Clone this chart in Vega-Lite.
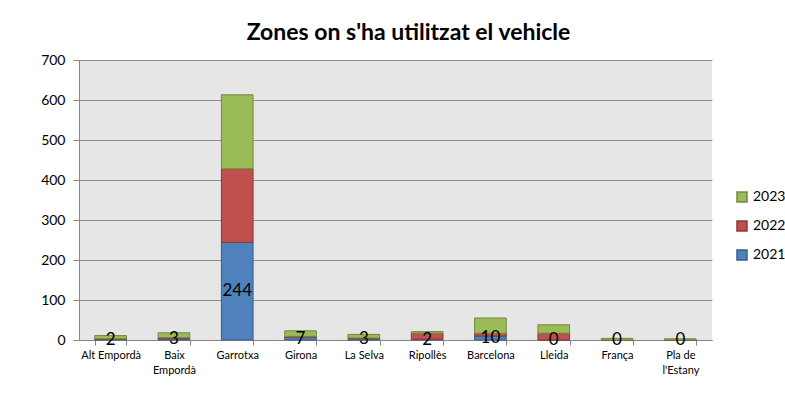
{
  "$schema": "https://vega.github.io/schema/vega-lite/v6.json",
  "width": 633,
  "height": 280,
  "autosize": "none",
  "padding": {"left": 79, "top": 60, "right": 73, "bottom": 66},
  "background": "white",
  "title": {
    "text": "Zones on s'ha utilitzat el vehicle",
    "font": "Lato",
    "fontSize": 23,
    "fontWeight": "bold",
    "color": "black",
    "anchor": "middle",
    "offset": 8,
    "dx": 13
  },
  "config": {
    "view": {"fill": "#E6E6E6", "stroke": null},
    "font": "Lato"
  },
  "data": {
    "values": [
      {"zona": "Alt Empordà", "any": "2021", "n": 2},
      {"zona": "Alt Empordà", "any": "2022", "n": 1},
      {"zona": "Alt Empordà", "any": "2023", "n": 8},
      {"zona": "Baix Empordà", "any": "2021", "n": 3},
      {"zona": "Baix Empordà", "any": "2022", "n": 3},
      {"zona": "Baix Empordà", "any": "2023", "n": 12},
      {"zona": "Garrotxa", "any": "2021", "n": 244},
      {"zona": "Garrotxa", "any": "2022", "n": 184},
      {"zona": "Garrotxa", "any": "2023", "n": 185},
      {"zona": "Girona", "any": "2021", "n": 7},
      {"zona": "Girona", "any": "2022", "n": 2},
      {"zona": "Girona", "any": "2023", "n": 14},
      {"zona": "La Selva", "any": "2021", "n": 3},
      {"zona": "La Selva", "any": "2022", "n": 2},
      {"zona": "La Selva", "any": "2023", "n": 9},
      {"zona": "Ripollès", "any": "2021", "n": 2},
      {"zona": "Ripollès", "any": "2022", "n": 15},
      {"zona": "Ripollès", "any": "2023", "n": 4},
      {"zona": "Barcelona", "any": "2021", "n": 10},
      {"zona": "Barcelona", "any": "2022", "n": 7},
      {"zona": "Barcelona", "any": "2023", "n": 38},
      {"zona": "Lleida", "any": "2021", "n": 0},
      {"zona": "Lleida", "any": "2022", "n": 17},
      {"zona": "Lleida", "any": "2023", "n": 21},
      {"zona": "França", "any": "2021", "n": 0},
      {"zona": "França", "any": "2022", "n": 0},
      {"zona": "França", "any": "2023", "n": 4},
      {"zona": "Pla de l'Estany", "any": "2021", "n": 0},
      {"zona": "Pla de l'Estany", "any": "2022", "n": 0},
      {"zona": "Pla de l'Estany", "any": "2023", "n": 3}
    ]
  },
  "encoding": {
    "x": {
      "field": "zona",
      "type": "nominal",
      "sort": null,
      "scale": {"paddingInner": 0.5, "paddingOuter": 0.25},
      "axis": {
        "title": null,
        "labelAngle": 0,
        "labelFontSize": 11,
        "labelColor": "black",
        "labelPadding": 4,
        "tickBand": "extent",
        "tickSize": 5,
        "tickColor": "#868686",
        "domainColor": "#868686",
        "labelExpr": "datum.label == 'Baix Empordà' ? ['Baix', 'Empordà'] : datum.label == \"Pla de l'Estany\" ? ['Pla de', \"l'Estany\"] : datum.label",
        "labelLineHeight": 15
      }
    }
  },
  "layer": [
    {
      "mark": {"type": "bar", "strokeWidth": 1},
      "encoding": {
        "y": {
          "field": "n",
          "type": "quantitative",
          "stack": "zero",
          "scale": {"domain": [0, 700]},
          "axis": {
            "title": null,
            "values": [0, 100, 200, 300, 400, 500, 600, 700],
            "labelFontSize": 14,
            "labelColor": "black",
            "labelPadding": 8,
            "tickSize": 6,
            "tickColor": "#868686",
            "domainColor": "#868686",
            "gridColor": "#8C8C8C",
            "gridWidth": 1.2
          }
        },
        "color": {
          "field": "any",
          "type": "nominal",
          "scale": {"domain": ["2023", "2022", "2021"], "range": ["#9BBB59", "#C0504D", "#4F81BD"]},
          "legend": {
            "title": null,
            "orient": "none",
            "legendX": 656,
            "legendY": 130,
            "symbolType": "square",
            "symbolSize": 100,
            "labelFontSize": 14,
            "labelColor": "black",
            "rowPadding": 13,
            "labelOffset": 4
          }
        },
        "stroke": {
          "field": "any",
          "type": "nominal",
          "scale": {"domain": ["2023", "2022", "2021"], "range": ["#71893F", "#8C3836", "#385D8A"]}
        },
        "order": {"field": "any", "sort": "ascending"}
      }
    },
    {
      "transform": [{"filter": "datum.any == '2021'"}],
      "mark": {"type": "text", "fontSize": 17, "color": "black", "baseline": "middle"},
      "encoding": {
        "y": {
          "field": "n",
          "type": "quantitative",
          "scale": {"domain": [0, 1400]},
          "axis": null
        },
        "text": {"field": "n", "type": "quantitative"}
      }
    }
  ],
  "resolve": {"scale": {"y": "independent"}}
}
